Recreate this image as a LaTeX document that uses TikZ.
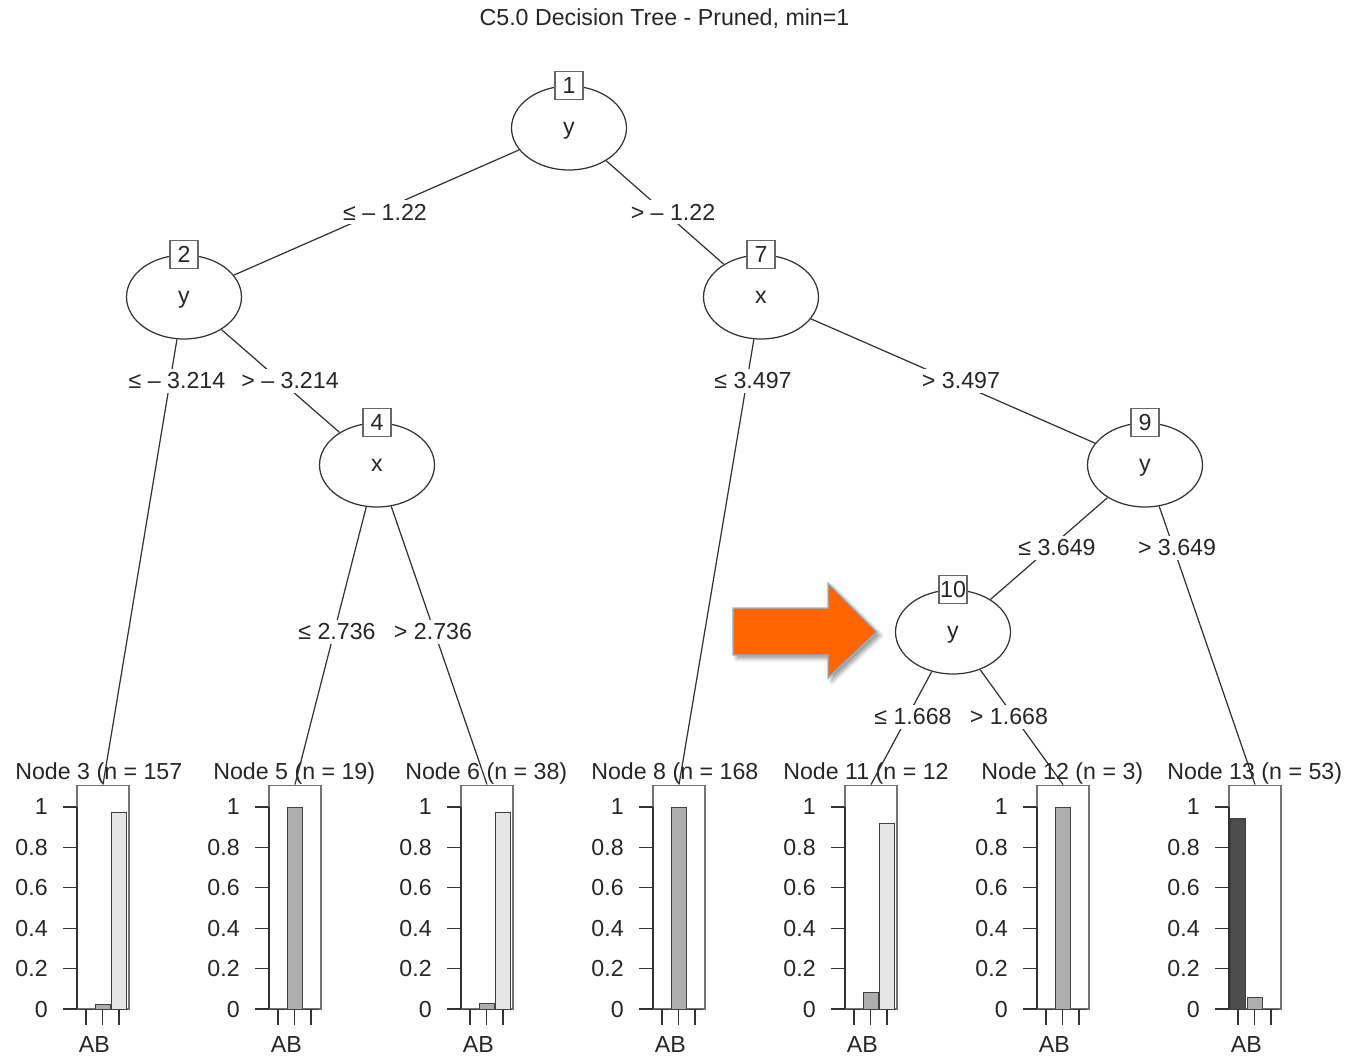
\documentclass[tikz,border=0pt]{standalone}
\usepackage{fontspec}
\setmainfont{Liberation Sans}
\usetikzlibrary{shapes.geometric,shadows.blur}

\definecolor{barA}{HTML}{4D4D4D}
\definecolor{barB}{HTML}{AEAEAE}
\definecolor{barC}{HTML}{E6E6E6}
\definecolor{linegray}{HTML}{333333}
\definecolor{arroworange}{HTML}{FF6600}
\definecolor{arrowedge}{HTML}{8EB4DC}

\tikzset{
  txt/.style={font=\fontsize{13.2}{15}\selectfont, text=black!85, inner sep=0pt},
  split/.style={ellipse, draw=linegray, line width=0.7pt, fill=white,
    minimum width=2.3cm, minimum height=1.68cm, inner sep=0pt, txt, text depth=0pt},
  idbox/.style={rectangle, draw=black!60, line width=0.6pt, fill=white,
    minimum width=0.56cm, minimum height=0.56cm, inner xsep=2.5pt, inner ysep=1pt, txt},
  edge/.style={draw=linegray, line width=0.7pt},
  elabel/.style={txt, fill=white, inner xsep=1pt, inner ysep=2pt},
  panel/.style={rectangle, draw=black!55, line width=0.6pt,
    minimum width=1.04cm, minimum height=4.48cm, inner sep=0pt},
  axisline/.style={draw=linegray, line width=0.7pt},
  bar/.style={draw=black!75, line width=0.5pt},
  catlabel/.style={txt, anchor=base},
}

% one leaf: name, left edge of the panel, title, left edge of the title, class proportions
\newcommand\leafpanel[7]{%
  \node[panel] (#1) at (#2+26,897) {};
  \node[txt, anchor=base west] at (#4,779) {#3};
  \draw[bar, fill=barA] (#2+1.5,1009) rectangle (#2+16.5,1009-202*#5);
  \draw[bar, fill=barB] (#2+18,1009) rectangle (#2+33,1009-202*#6);
  \draw[bar, fill=barC] (#2+34.5,1009) rectangle (#2+49.5,1009-202*#7);
  \draw[axisline] (#2,1009) -- (#2,807);
  \foreach \v/\t in {0/0,0.2/0.2,0.4/0.4,0.6/0.6,0.8/0.8,1/1}{
    \draw[axisline] (#2-14,1009-202*\v) -- (#2,1009-202*\v);
    \node[txt, anchor=east] at (#2-29,1009-202*\v) {\t};
  }
  \foreach \dx in {9,25.5,42}{
    \draw[axisline] (#2+\dx,1009) -- (#2+\dx,1025);
  }
  \node[catlabel] at (#2+9.5,1052) {A};
  \node[catlabel] at (#2+25,1052) {B};
}

\begin{document}
\begin{tikzpicture}[x=0.02cm, y=-0.02cm]
\useasboundingbox (0,0) rectangle (1356,1056);

% title
\node[txt] at (664.5,19) {C5.0 Decision Tree - Pruned, min=1};

% inner (splitting) nodes
\node[split] (n1)  at (569,128) {y};
\node[split] (n2)  at (184,297) {y};
\node[split] (n4)  at (377,465) {x};
\node[split] (n7)  at (761,297) {x};
\node[split] (n9)  at (1145,465) {y};
\node[split] (n10) at (953,632) {y};

% terminal nodes with class-proportion bar charts
\leafpanel{l3}{77}{Node 3 (n = 157}{15}{0}{0.025}{0.975}
\leafpanel{l5}{269}{Node 5 (n = 19)}{213}{0}{1}{0}
\leafpanel{l6}{461}{Node 6 (n = 38)}{405}{0}{0.026}{0.974}
\leafpanel{l8}{653}{Node 8 (n = 168}{591}{0}{1}{0}
\leafpanel{l11}{845}{Node 11 (n = 12}{783}{0}{0.083}{0.917}
\leafpanel{l12}{1037}{Node 12 (n = 3)}{981}{0}{1}{0}
\leafpanel{l13}{1229}{Node 13 (n = 53)}{1167}{0.943}{0.057}{0}

% edges
\draw[edge] (n1) -- (n2);
\draw[edge] (n1) -- (n7);
\draw[edge] (n2) -- (l3.north);
\draw[edge] (n2) -- (n4);
\draw[edge] (n4) -- (l5.north);
\draw[edge] (n4) -- (l6.north);
\draw[edge] (n7) -- (l8.north);
\draw[edge] (n7) -- (n9);
\draw[edge] (n9) -- (n10);
\draw[edge] (n9) -- (l13.north);
\draw[edge] (n10) -- (l11.north);
\draw[edge] (n10) -- (l12.north);

% node numbers
\node[idbox] at (n1.north)  {1};
\node[idbox] at (n2.north)  {2};
\node[idbox] at (n4.north)  {4};
\node[idbox] at (n7.north)  {7};
\node[idbox] at (n9.north)  {9};
\node[idbox] at (n10.north) {10};

% split conditions
\node[elabel] at (385,212) {≤ – 1.22};
\node[elabel] at (673,212) {> – 1.22};
\node[elabel] at (177,381) {≤ – 3.214};
\node[elabel] at (290,381) {> – 3.214};
\node[elabel] at (753,381) {≤ 3.497};
\node[elabel] at (961,381) {> 3.497};
\node[elabel] at (337,632) {≤ 2.736};
\node[elabel] at (433,632) {> 2.736};
\node[elabel] at (1057,548) {≤ 3.649};
\node[elabel] at (1177,548) {> 3.649};
\node[elabel] at (913,717) {≤ 1.668};
\node[elabel] at (1009,717) {> 1.668};

% highlight arrow
\path[fill=arroworange, draw=arrowedge, line width=0.8pt,
      blur shadow={shadow xshift=2pt, shadow yshift=-2pt, shadow blur steps=6, shadow opacity=40}]
  (733,608) -- (828,608) -- (828,583) -- (877,632) -- (828,678) -- (828,655) -- (733,655) -- cycle;
\end{tikzpicture}
\end{document}
